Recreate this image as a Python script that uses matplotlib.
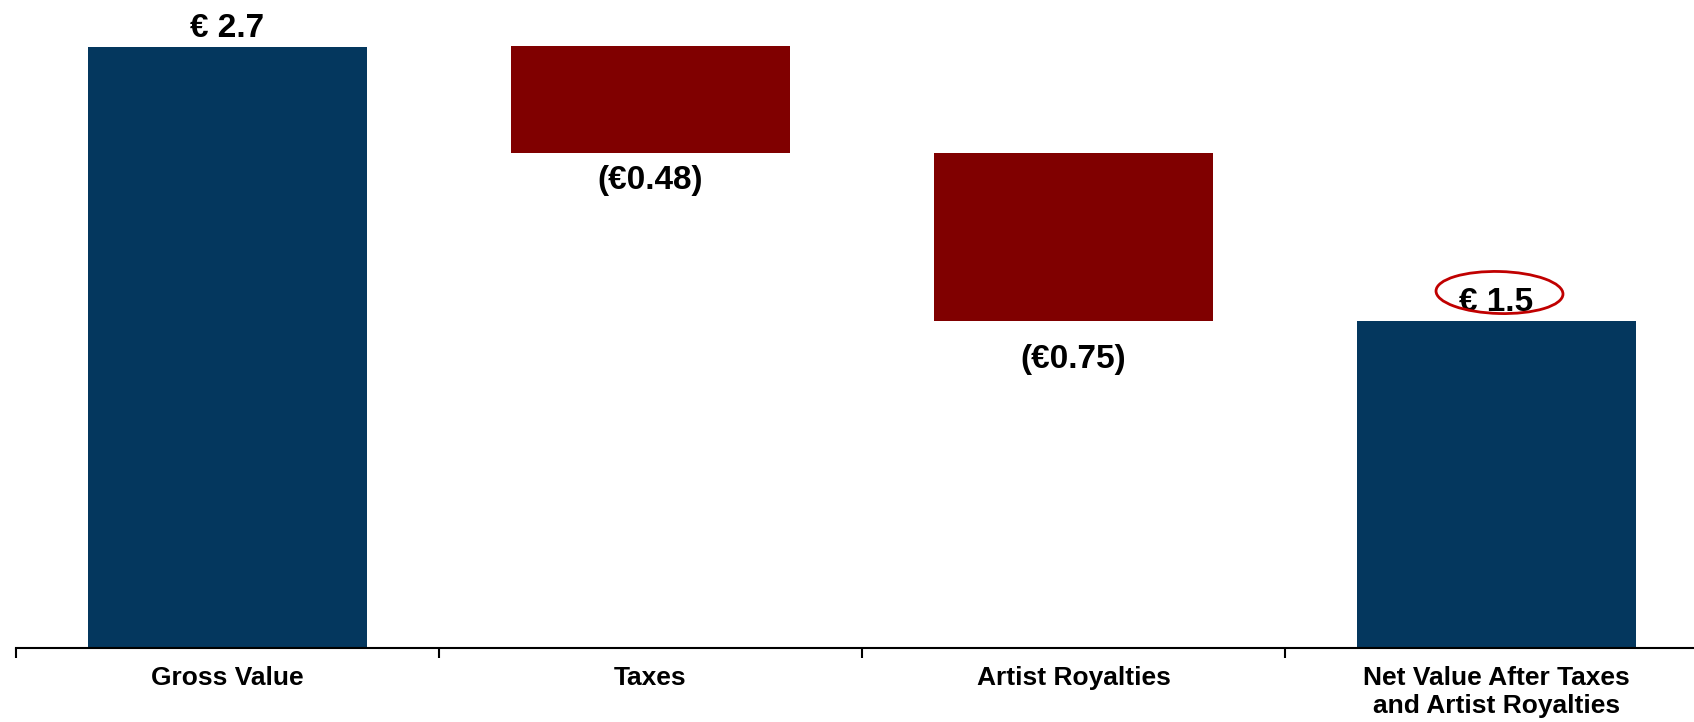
import matplotlib
matplotlib.use("Agg")
import matplotlib.pyplot as plt
from matplotlib.patches import Ellipse
from matplotlib.transforms import ScaledTranslation

plt.rcParams['font.family'] = ['Liberation Sans', 'DejaVu Sans']

categories = ["Gross Value", "Taxes", "Artist Royalties",
              "Net Value After Taxes\nand Artist Royalties"]
gross_value = 2.7
deductions = [0.48, 0.75]
net_value = gross_value - sum(deductions)
labels = ["€ 2.7", "(€0.48)", "(€0.75)", "€ 1.5"]

BLUE = "#04375E"
DARKRED = "#800000"
CIRCLE = "#C00000"

fig = plt.figure(figsize=(16.94, 7.22), dpi=100)
ax = fig.add_axes([16 / 1694, 74 / 722, 1692 / 1694, 648 / 722])

# waterfall geometry from data
bottoms = [0.0]
heights = [gross_value]
running = gross_value
for d in deductions:
    running -= d
    bottoms.append(running)
    heights.append(d)
bottoms.append(0.0)
heights.append(net_value)
colors = [BLUE, DARKRED, DARKRED, BLUE]

x = list(range(len(categories)))
ax.bar(x, heights, bottom=bottoms, width=0.66, color=colors, zorder=2)

# value labels
for i in x:
    top = bottoms[i] + heights[i]
    if colors[i] == BLUE:
        ax.annotate(labels[i], (i, top), xytext=(0, 6.5), textcoords="offset points",
                    ha="center", va="baseline", fontsize=24, fontweight="bold")
    else:
        off = -25.5 if i == 1 else -34.5
        ax.annotate(labels[i], (i, bottoms[i]), xytext=(0, off), textcoords="offset points",
                    ha="center", va="baseline", fontsize=24, fontweight="bold")

# hand-drawn style circle around the net value
tr = fig.dpi_scale_trans + ScaledTranslation(3, net_value, ax.transData)
ax.add_patch(Ellipse((0.03, 0.28), 1.27, 0.42, angle=-1.5, transform=tr,
                     fill=False, edgecolor=CIRCLE, linewidth=2.0, zorder=5,
                     clip_on=False))

ax.set_xlim(-0.5, 3.5)
ax.set_ylim(0, 648 / (601.5 / gross_value))

for s in ["top", "right", "left"]:
    ax.spines[s].set_visible(False)
ax.spines["bottom"].set_linewidth(1.5)
ax.spines["bottom"].set_color("black")
ax.set_yticks([])

ax.set_xticks([-0.5, 0.5, 1.5, 2.5])
ax.set_xticklabels([])
ax.tick_params(axis="x", which="major", direction="out", length=7, width=1.5, color="black")
ax.set_xticks(x, minor=True)
ax.set_xticklabels(categories, minor=True, fontsize=19, fontweight="bold")
ax.tick_params(axis="x", which="minor", length=0, pad=13)

fig.savefig("out.png", dpi=100)
